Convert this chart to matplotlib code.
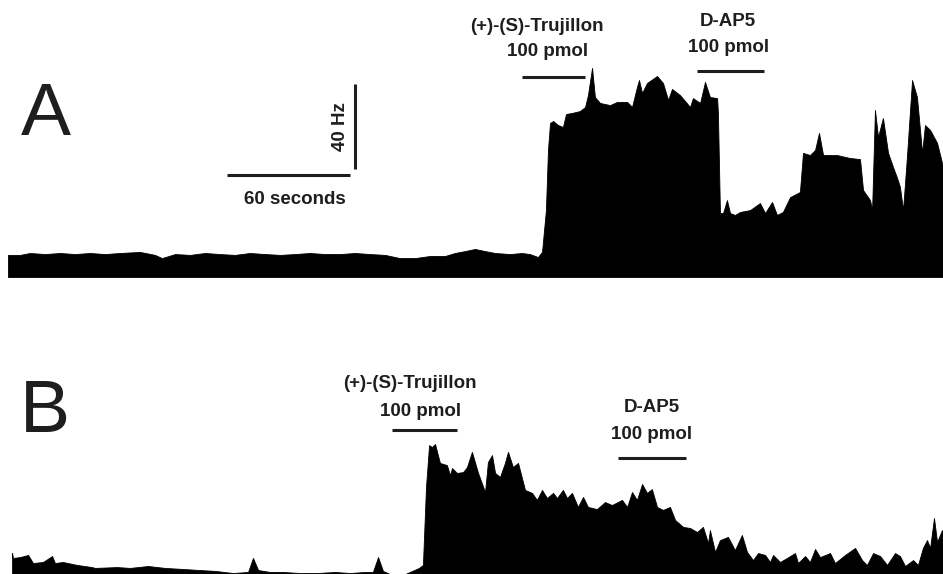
import matplotlib
matplotlib.use("Agg")
import matplotlib.pyplot as plt
import numpy as np

plt.rcParams['font.family'] = ['Liberation Sans', 'DejaVu Sans']

# ---------------- data (time in s, firing rate in Hz) ----------------
t_A = [0, 5.9, 10.7, 18.0, 25.4, 32.7, 40.0, 47.3, 54.6, 64.4, 71.7, 75.1, 81.5, 88.8,
       96.1, 103.4, 110.7, 118.0, 125.4, 132.7, 140.0, 147.3, 154.6, 162.0, 169.3, 176.6,
       183.9, 191.2, 198.5, 205.9, 213.2, 218.0, 222.9, 227.8, 232.7, 237.6, 244.9, 250.7,
       254.6, 258.5, 260.5, 262.4, 263.4, 264.4, 265.9, 268.3, 270.7, 272.2, 275.1, 279.0,
       281.5, 282.9, 284.9, 286.3, 288.8, 293.7, 297.1, 302.0, 304.4, 306.8, 307.8, 309.3,
       311.7, 316.6, 319.5, 322.0, 323.9, 327.8, 332.7, 334.1, 337.6, 340.0, 342.4, 345.9,
       346.3, 347.3, 348.8, 350.7, 352.2, 354.6, 357.1, 362.0, 366.8, 369.3, 372.7, 375.1,
       378.0, 381.5, 386.3, 387.8, 391.2, 393.7, 395.6, 397.6, 404.4, 410.7, 415.6, 417.1,
       420.5, 421.5, 422.9, 424.4, 426.8, 429.3, 431.7, 433.7, 435.1, 436.6, 438.5, 441.0,
       443.4, 445.9, 447.3, 449.8, 453.2, 456.1]
rate_A = [10.4, 10.4, 11.3, 10.8, 11.3, 10.8, 11.3, 10.8, 11.3, 11.8, 10.4, 8.9, 10.8, 10.4,
          11.3, 10.8, 10.4, 11.3, 10.8, 10.4, 10.8, 11.3, 10.8, 10.8, 11.3, 10.8,
          10.4, 8.9, 8.9, 9.9, 9.9, 11.3, 12.2, 13.2, 12.2, 11.3, 10.8, 11.3,
          10.8, 9.4, 11.8, 31.5, 59.8, 72.5, 73.4, 71.5, 70.6, 76.7, 77.2, 78.1,
          80.0, 85.6, 98.4, 84.7, 81.9, 80.9, 82.4, 82.4, 80.0, 89.4, 92.7, 86.6,
          91.3, 94.6, 91.3, 83.3, 88.5, 85.6, 80.0, 84.2, 81.9, 91.8, 84.7, 84.2,
          77.2, 30.1, 30.1, 36.2, 30.1, 29.2, 30.6, 31.5, 34.8, 30.1, 35.3, 29.2,
          30.6, 37.6, 40.0, 58.4, 57.4, 59.8, 67.8, 57.4, 57.4, 56.0, 55.5, 40.9,
          36.2, 31.5, 78.6, 65.9, 74.8, 58.4, 51.8, 46.6, 42.4, 31.5, 56.5, 92.7,
          84.7, 58.4, 71.5, 69.2, 63.1, 51.8]

t_B = [2.0, 2.4, 5.9, 9.8, 12.2, 17.1, 21.5, 22.9, 26.8, 33.7, 41.0, 42.4, 53.2, 59.5,
       68.3, 76.6, 85.4, 93.7, 101.0, 109.8, 117.1, 119.5, 122.0, 127.8, 134.1, 142.4,
       150.7, 159.5, 166.8, 174.1, 178.0, 180.5, 182.9, 186.3, 193.7, 200.5, 202.4, 203.9,
       205.4, 206.8, 208.3, 210.7, 214.1, 215.6, 216.6, 219.0, 222.0, 223.9, 226.3, 229.3,
       232.7, 234.1, 236.1, 237.6, 240.0, 242.4, 243.9, 246.3, 248.8, 252.2, 255.6, 258.0,
       260.5, 262.9, 265.9, 267.8, 270.7, 272.7, 275.1, 278.0, 280.5, 282.9, 287.3, 291.2,
       294.6, 299.5, 302.0, 304.4, 306.8, 309.3, 311.7, 314.1, 316.6, 319.5, 322.9, 325.4,
       329.3, 332.7, 336.1, 339.0, 341.5, 342.4, 344.9, 347.3, 351.2, 354.6, 358.0, 360.5,
       363.4, 365.9, 369.3, 371.7, 373.2, 376.6, 380.0, 383.9, 385.4, 388.8, 391.2, 393.7,
       396.1, 401.0, 403.4, 408.3, 413.2, 416.6, 419.0, 422.0, 425.4, 428.8, 432.7, 435.1,
       437.6, 441.5, 443.9, 446.3, 448.3, 449.8, 451.7, 453.2, 455.6, 456.1]
rate_B = [10.8, 8.5, 8.9, 9.9, 6.1, 6.6, 9.4, 6.1, 6.6, 5.2, 4.2, 3.8, 4.2, 3.8,
          4.7, 3.8, 3.3, 2.8, 2.4, 1.4, 1.9, 8.5, 2.8, 1.9, 1.9, 1.4,
          1.4, 1.9, 1.4, 1.9, 1.9, 8.9, 2.4, 0.9, 0.9, 3.8, 5.2, 41.9,
          61.6, 60.7, 62.1, 53.2, 52.2, 47.5, 50.8, 48.5, 48.9, 51.3, 58.4, 48.5,
          39.5, 53.6, 56.9, 48.5, 46.6, 53.2, 58.4, 51.3, 53.2, 40.5, 39.1, 35.8,
          40.5, 36.7, 39.1, 36.7, 40.5, 36.7, 39.1, 32.5, 37.2, 32.5, 31.5, 34.8,
          33.4, 35.8, 32.5, 39.5, 35.8, 43.3, 39.1, 40.9, 32.5, 31.1, 32.5, 26.4,
          23.1, 22.6, 20.7, 23.1, 15.5, 21.6, 11.3, 16.9, 18.4, 12.2, 19.3, 11.3,
          7.5, 10.8, 9.9, 6.6, 9.9, 6.6, 8.5, 10.8, 6.1, 9.4, 6.6, 12.7,
          8.9, 10.8, 6.1, 9.9, 13.2, 7.5, 5.2, 10.8, 9.4, 5.2, 10.8, 9.4,
          4.7, 7.5, 5.2, 13.2, 16.9, 13.2, 27.3, 16.0, 21.6, 19.0]

# drug application bars (start, end, label, dose)
drugs_A = [(250.7, 281.5, "(+)-(S)-Trujillon", "100 pmol"),
           (336.1, 368.8, "D-AP5", "100 pmol")]
drugs_B = [(187.3, 219.0, "(+)-(S)-Trujillon", "100 pmol"),
           (297.6, 330.7, "D-AP5", "100 pmol")]
scale_sec = 60
scale_hz = 40

# ---------------- figure ----------------
W, H = 943, 574
fig = plt.figure(figsize=(W / 100, H / 100), dpi=100)

px_per_s = 2.05
px_per_hz = 2.125
x_left = 8
tmax = (W - x_left) / px_per_s

# Panel A: zero line at y=277 px, top at y=0
axA = fig.add_axes([x_left / W, (H - 277) / H, (W - x_left) / W, 277 / H])
axA.set_xlim(0, tmax)
axA.set_ylim(0, 277 / px_per_hz)
# Panel B: zero line just under the figure bottom
axB = fig.add_axes([x_left / W, 0, (W - x_left) / W, 286 / H])
axB.set_xlim(0, tmax)
b0 = 2 / px_per_hz
axB.set_ylim(b0, b0 + 286 / px_per_hz)

for ax in (axA, axB):
    ax.axis('off')

ink = '#1e1e1e'
axA.fill_between(t_A, rate_A, 0, color='black', linewidth=0.6, edgecolor='black')
axB.fill_between(t_B, rate_B, 0, color='black', linewidth=0.6, edgecolor='black')

fs = 13.5
lw_bar = 2.2

def drug_marks(ax, drugs, bar_y, lab_y, dose_y, lab_dx):
    for (s, e, lab, dose), by, ly, dy, dx in zip(drugs, bar_y, lab_y, dose_y, lab_dx):
        ax.plot([s, e], [by, by], color=ink, lw=lw_bar, solid_capstyle='butt')
        mid = (s + e) / 2
        ax.text(mid + dx[0], ly, lab, ha='center', va='center', fontsize=fs,
                fontweight='bold', color=ink)
        ax.text(mid + dx[1], dy, dose, ha='center', va='center', fontsize=fs,
                fontweight='bold', color=ink)

drug_marks(axA, drugs_A, [94.1, 96.9], [118.1, 120.0], [105.9, 107.8],
           [(-8.1, -3.1), (-1.3, -0.8)])
drug_marks(axB, drugs_B, [68.7, 55.5], [90.8, 79.5], [77.6, 66.4],
           [(-7.1, -2.1), (0, 0)])

# scale bars in panel A
sb_t0, sb_y = 106.8, 48.0
axA.plot([sb_t0, sb_t0 + scale_sec], [sb_y, sb_y], color=ink, lw=lw_bar,
         solid_capstyle='butt')
vb_t, vb_y0 = 169.3, 51.0
axA.plot([vb_t, vb_t], [vb_y0, vb_y0 + scale_hz], color=ink, lw=lw_bar,
         solid_capstyle='butt')
axA.text(sb_t0 + scale_sec / 2 + 3.2, 36.7, f"{scale_sec} seconds", ha='center',
         va='center', fontsize=fs, fontweight='bold', color=ink)
axA.text(162.0, vb_y0 + scale_hz / 2, f"{scale_hz} Hz", ha='center', va='center',
         rotation=90, fontsize=fs, fontweight='bold', color=ink)

# panel letters
axA.text(18.6, 76.2, "A", ha='center', va='center', fontsize=54, color=ink)
axB.text(18.0, 76.9, "B", ha='center', va='center', fontsize=54, color=ink)

fig.savefig("out.png", dpi=100)
